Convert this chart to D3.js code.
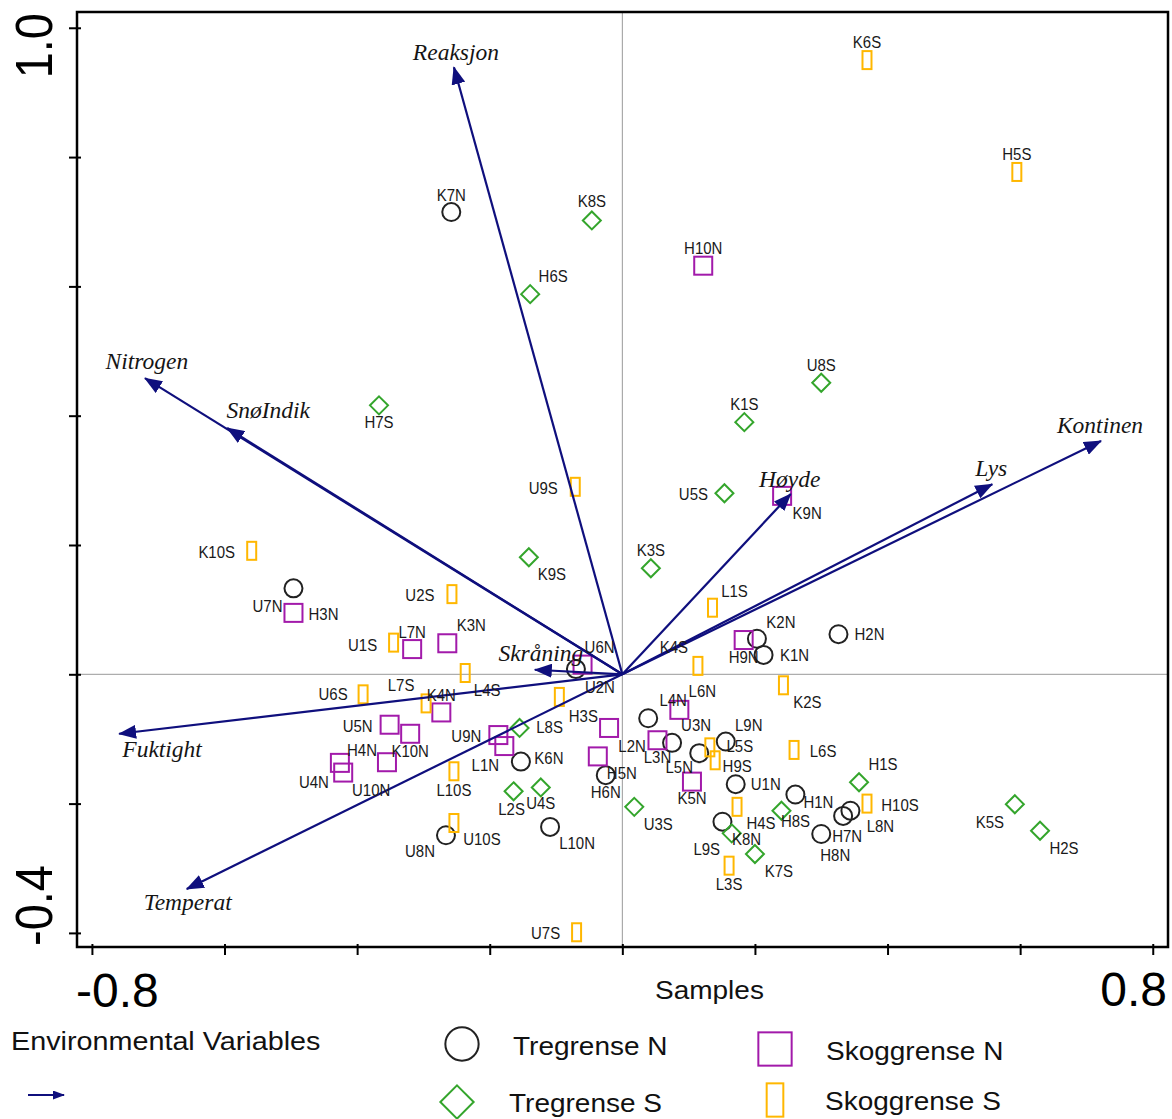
<!DOCTYPE html>
<html>
<head>
<meta charset="utf-8">
<script src="https://cdn.jsdelivr.net/npm/d3@7"></script>
<style>
  body { margin: 0; background: #fff; }
  svg { display: block; }
  text { font-family: "Liberation Sans", Arial, sans-serif; }
  .env { font-family: "Liberation Serif", "Times New Roman", serif; font-style: italic; }
</style>
</head>
<body>
<div id="chart"></div>
<script>
// sample scores: [name, axis 1, axis 2]
const tregrenseN = [
  ["K7N", -0.258, 0.715], ["U7N", -0.496, 0.133], ["K2N", 0.203, 0.055], ["K1N", 0.213, 0.030],
  ["H2N", 0.326, 0.062], ["U2N", -0.070, 0.008], ["L4N", 0.039, -0.068], ["U3N", 0.075, -0.106],
  ["L9N", 0.156, -0.104], ["L5N", 0.116, -0.122], ["K6N", -0.153, -0.135], ["H6N", -0.025, -0.156],
  ["U1N", 0.171, -0.170], ["H1N", 0.261, -0.186], ["L8N", 0.344, -0.211], ["H7N", 0.333, -0.219],
  ["H8N", 0.300, -0.247], ["K8N", 0.151, -0.228], ["U8N", -0.266, -0.249], ["L10N", -0.109, -0.236]
];
const tregrenseS = [
  ["K8S", -0.046, 0.702], ["H6S", -0.139, 0.588], ["H7S", -0.367, 0.416], ["U8S", 0.300, 0.451],
  ["K1S", 0.184, 0.390], ["U5S", 0.154, 0.280], ["K9S", -0.141, 0.181], ["K3S", 0.043, 0.164],
  ["L8S", -0.155, -0.083], ["L2S", -0.164, -0.181], ["U4S", -0.123, -0.175], ["U3S", 0.018, -0.205],
  ["H1S", 0.357, -0.167], ["H8S", 0.240, -0.211], ["L9S", 0.165, -0.246], ["K7S", 0.200, -0.278],
  ["K5S", 0.592, -0.201], ["H2S", 0.630, -0.242]
];
const skoggrenseN = [
  ["H10N", 0.122, 0.632], ["H3N", -0.496, 0.095], ["L7N", -0.317, 0.039], ["K3N", -0.264, 0.048],
  ["H9N", 0.183, 0.053], ["U6N", -0.060, 0.015], ["K9N", 0.241, 0.276], ["K4N", -0.273, -0.059],
  ["L6N", 0.086, -0.055], ["U5N", -0.351, -0.078], ["U9N", -0.187, -0.094], ["L1N", -0.178, -0.111],
  ["K10N", -0.320, -0.092], ["H4N", -0.355, -0.136], ["U4N", -0.426, -0.137], ["U10N", -0.421, -0.152],
  ["L2N", -0.020, -0.083], ["L3N", 0.053, -0.102], ["K5N", 0.105, -0.166], ["H5N", -0.037, -0.127]
];
const skoggrenseS = [
  ["K6S", 0.369, 0.950], ["H5S", 0.595, 0.777], ["U9S", -0.071, 0.290], ["K10S", -0.559, 0.191],
  ["U2S", -0.257, 0.124], ["L1S", 0.136, 0.103], ["U1S", -0.345, 0.049], ["K4S", 0.114, 0.013],
  ["U6S", -0.391, -0.031], ["L7S", -0.296, -0.045], ["L4S", -0.237, 0.002], ["H3S", -0.095, -0.035],
  ["K2S", 0.243, -0.017], ["L5S", 0.132, -0.113], ["H9S", 0.140, -0.133], ["L6S", 0.259, -0.117],
  ["L10S", -0.254, -0.150], ["U10S", -0.254, -0.230], ["H4S", 0.173, -0.205], ["H10S", 0.369, -0.200],
  ["L3S", 0.161, -0.296], ["U7S", -0.069, -0.399]
];

// environmental variables: [name, axis 1, axis 2]
const envVars = [
  ["Reaksjon", -0.254, 0.939], ["Nitrogen", -0.720, 0.458], ["SnøIndik", -0.596, 0.381],
  ["Skråning", -0.132, 0.007], ["Fuktight", -0.759, -0.092], ["Temperat", -0.657, -0.332],
  ["Høyde", 0.254, 0.279], ["Lys", 0.558, 0.294], ["Kontinen", 0.722, 0.361]
];

const xTicks = [-0.8, -0.6, -0.4, -0.2, 0, 0.2, 0.4, 0.6, 0.8];
const yTicks = [-0.4, -0.2, 0, 0.2, 0.4, 0.6, 0.8, 1.0];
const xTickLabels = ["-0.8", "0.8"];
const yTickLabels = ["1.0", "-0.4"];
const groupNames = ["Tregrense N", "Tregrense S", "Skoggrense N", "Skoggrense S"];

// label placement (pixel offsets from the marker, text centred, baseline)
const labelOffset = {
  K7N: [0, -11], U7N: [-26, 24], K2N: [24, -11], K1N: [31, 6], H2N: [31, 6], U2N: [24, 24],
  L4N: [25, -12], U3N: [24, -12], L9N: [23, -11], L5N: [-20, 20], K6N: [28, 2], H6N: [0, 23],
  U1N: [30, 6], H1N: [23, 13], L8N: [30, 21], H7N: [4, 26], H8N: [14, 27], K8N: [24, 23],
  U8N: [-26, 22], L10N: [27, 22],
  K8S: [0, -13], H6S: [23, -12], H7S: [0, 23], U8S: [0, -12], K1S: [0, -12], U5S: [-31, 7],
  K9S: [23, 23], K3S: [0, -12], L8S: [30, 5], L2S: [-2, 24], U4S: [0, 22], U3S: [24, 23],
  H1S: [24, -12], H8S: [14, 16], L9S: [-25, 22], K7S: [24, 23], K5S: [-25, 24], H2S: [24, 23],
  H10N: [0, -12], H3N: [30, 7], L7N: [0, -11], K3N: [24, -12], H9N: [0, 23], U6N: [17, -12],
  K9N: [25, 23], K4N: [0, -11], L6N: [23, -13], U5N: [-32, 7], U9N: [-32, 7], L1N: [-19, 25],
  K10N: [0, 23], H4N: [-25, -6], U4N: [-26, 25], U10N: [28, 23], L2N: [23, 24], L3N: [0, 23],
  K5N: [0, 22], H5N: [24, 23],
  K6S: [0, -12], H5S: [0, -12], U9S: [-32, 7], K10S: [-35, 7], U2S: [-32, 7], L1S: [22, -11],
  U1S: [-31, 8], K4S: [-24, -13], U6S: [-30, 6], L7S: [-25, -12], L4S: [22, 23], H3S: [24, 25],
  K2S: [24, 23], L5S: [30, 5], H9S: [22, 12], L6S: [29, 7], L10S: [0, 25], U10S: [28, 22],
  H4S: [24, 22], H10S: [33, 7], L3S: [0, 24], U7S: [-31, 7]
};
const envLabelOffset = {
  Reaksjon: [2, -7], Nitrogen: [2, -9], "SnøIndik": [41, -10], "Skråning": [6, -9],
  Fuktight: [43, 23], Temperat: [1, 21], "Høyde": [-1, -7], Lys: [-1, -8], Kontinen: [-1, -8]
};

const W = 1172, H = 1119;
const frame = { left: 77, right: 1168, top: 12, bottom: 947 };
const navy = "#0f0f7d";

const svg = d3.select("#chart").append("svg").attr("width", W).attr("height", H);

const x = d3.scaleLinear().domain([-0.8225, 0.823]).range([frame.left, frame.right]);
const y = d3.scaleLinear().domain([-0.4218, 1.0244]).range([frame.bottom, frame.top]);

// arrowhead markers
const defs = svg.append("defs");
defs.append("marker").attr("id", "head")
  .attr("viewBox", "0 0 18 14").attr("refX", 17).attr("refY", 7)
  .attr("markerWidth", 18).attr("markerHeight", 14)
  .attr("markerUnits", "userSpaceOnUse").attr("orient", "auto")
  .append("path").attr("d", "M0,0L18,7L0,14Z").attr("fill", navy);
defs.append("marker").attr("id", "headSmall")
  .attr("viewBox", "0 0 12 9").attr("refX", 11).attr("refY", 4.5)
  .attr("markerWidth", 12).attr("markerHeight", 9)
  .attr("markerUnits", "userSpaceOnUse").attr("orient", "auto")
  .append("path").attr("d", "M0,0L12,4.5L0,9Z").attr("fill", navy);

// zero lines
svg.append("line")
  .attr("x1", x(0)).attr("x2", x(0)).attr("y1", frame.top).attr("y2", frame.bottom)
  .attr("stroke", "#999").attr("stroke-width", 1);
svg.append("line")
  .attr("x1", frame.left).attr("x2", frame.right).attr("y1", y(0)).attr("y2", y(0))
  .attr("stroke", "#999").attr("stroke-width", 1);

// axes (ticks only, crossing the frame)
const gx = svg.append("g").attr("transform", `translate(0,${frame.bottom})`)
  .call(d3.axisBottom(x).tickValues(xTicks).tickFormat("").tickSizeInner(8).tickSizeOuter(0));
gx.select(".domain").remove();
gx.selectAll(".tick line").attr("y1", -3).attr("stroke", "#000").attr("stroke-width", 2);

const gy = svg.append("g").attr("transform", `translate(${frame.left},0)`)
  .call(d3.axisLeft(y).tickValues(yTicks).tickFormat("").tickSizeInner(8).tickSizeOuter(0));
gy.select(".domain").remove();
gy.selectAll(".tick line").attr("x1", 4).attr("stroke", "#000").attr("stroke-width", 2);

svg.append("rect")
  .attr("x", frame.left).attr("y", frame.top)
  .attr("width", frame.right - frame.left).attr("height", frame.bottom - frame.top)
  .attr("fill", "none").attr("stroke", "#000").attr("stroke-width", 2.5);

// marker shapes
function drawShape(g, shape, color, cx, cy, s) {
  s = s || 1;
  if (shape === "circle") {
    g.append("circle").attr("cx", cx).attr("cy", cy).attr("r", 9 * s)
      .attr("fill", "none").attr("stroke", color).attr("stroke-width", 2);
  } else if (shape === "diamond") {
    const h = 9 * s;
    g.append("path").attr("d", `M${cx},${cy - h}L${cx + h},${cy}L${cx},${cy + h}L${cx - h},${cy}Z`)
      .attr("fill", "none").attr("stroke", color).attr("stroke-width", 2);
  } else if (shape === "square") {
    const h = 9 * s;
    g.append("rect").attr("x", cx - h).attr("y", cy - h).attr("width", 2 * h).attr("height", 2 * h)
      .attr("fill", "none").attr("stroke", color).attr("stroke-width", 2);
  } else {
    const w = 4.5 * s, h = 9 * s;
    g.append("rect").attr("x", cx - w).attr("y", cy - h).attr("width", 2 * w).attr("height", 2 * h)
      .attr("fill", "none").attr("stroke", color).attr("stroke-width", 2);
  }
}

const groups = [
  { name: groupNames[0], data: tregrenseN, shape: "circle", color: "#222222" },
  { name: groupNames[1], data: tregrenseS, shape: "diamond", color: "#34a52c" },
  { name: groupNames[2], data: skoggrenseN, shape: "square", color: "#a21aaa" },
  { name: groupNames[3], data: skoggrenseS, shape: "tall", color: "#ffb700" }
];

const gPts = svg.append("g");
groups.forEach(grp => {
  grp.data.forEach(d => drawShape(gPts, grp.shape, grp.color, x(d[1]), y(d[2])));
});

// environmental arrows
const gEnv = svg.append("g");
gEnv.selectAll("line").data(envVars).enter().append("line")
  .attr("x1", x(0)).attr("y1", y(0))
  .attr("x2", d => x(d[1])).attr("y2", d => y(d[2]))
  .attr("stroke", navy).attr("stroke-width", 2.2)
  .attr("marker-end", "url(#head)");
gEnv.selectAll("text").data(envVars).enter().append("text")
  .attr("class", "env")
  .attr("x", d => x(d[1]) + envLabelOffset[d[0]][0])
  .attr("y", d => y(d[2]) + envLabelOffset[d[0]][1])
  .attr("text-anchor", "middle").attr("font-size", 23.5).attr("fill", "#151515")
  .text(d => d[0]);

// sample labels (slightly tall, as in the original export)
const gLab = svg.append("g");
groups.forEach(grp => {
  gLab.selectAll(null).data(grp.data).enter().append("text")
    .attr("transform", d => {
      const o = labelOffset[d[0]] || [0, -12];
      return `translate(${x(d[1]) + o[0]},${y(d[2]) + o[1]}) scale(1,1.1)`;
    })
    .attr("text-anchor", "middle").attr("font-size", 15).attr("fill", "#1a1a1a")
    .text(d => d[0]);
});

// axis end labels
svg.append("text").attr("x", frame.left - 1).attr("y", 1007)
  .attr("font-size", 48).attr("text-anchor", "start").text(xTickLabels[0]);
svg.append("text").attr("x", frame.right - 1).attr("y", 1006)
  .attr("font-size", 48).attr("text-anchor", "end").text(xTickLabels[1]);
svg.append("text")
  .attr("transform", `translate(52,${frame.top + 1}) rotate(-90) scale(1,1.1)`)
  .attr("font-size", 47).attr("text-anchor", "end").text(yTickLabels[0]);
svg.append("text")
  .attr("transform", `translate(52,${frame.bottom - 1}) rotate(-90) scale(1,1.1)`)
  .attr("font-size", 47).attr("text-anchor", "start").text(yTickLabels[1]);

function wideText(str, tx, ty, size, sx) {
  return svg.append("text")
    .attr("transform", `translate(${tx},${ty}) scale(${sx || 1.12},1)`)
    .attr("font-size", size).attr("fill", "#111").text(str);
}

wideText("Samples", 655, 999, 25);

// legend
wideText("Environmental Variables", 11, 1050, 25, 1.15);
svg.append("line").attr("x1", 28).attr("x2", 64).attr("y1", 1095).attr("y2", 1095)
  .attr("stroke", navy).attr("stroke-width", 2.2).attr("marker-end", "url(#headSmall)");

const legendPos = [[462, 1044, 513, 1055], [457, 1102, 509, 1112], [775, 1049, 826, 1060], [775, 1100, 825, 1110]];
groups.forEach((grp, i) => {
  const p = legendPos[i];
  drawShape(svg, grp.shape, grp.color, p[0], p[1], 1.85);
  wideText(grp.name, p[2], p[3], 25);
});
</script>
</body>
</html>
